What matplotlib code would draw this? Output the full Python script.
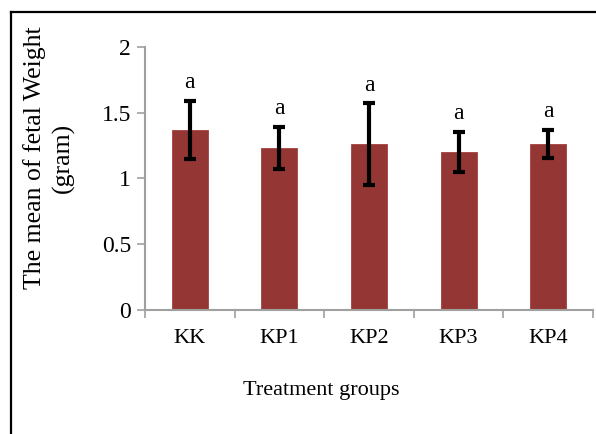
import matplotlib
matplotlib.use("Agg")
import matplotlib.pyplot as plt
from matplotlib.lines import Line2D

categories = ["KK", "KP1", "KP2", "KP3", "KP4"]
means = [1.37, 1.23, 1.26, 1.20, 1.26]
errors = [0.22, 0.16, 0.31, 0.15, 0.105]
letters = ["a", "a", "a", "a", "a"]
yticks = [0, 0.5, 1, 1.5, 2]
ytick_labels = ["0", "0.5", "1", "1.5", "2"]

plt.rcParams['font.family'] = ['Liberation Serif', 'DejaVu Serif']

fig = plt.figure(figsize=(5.96, 4.34), dpi=100)
ax = fig.add_axes([145/596, 1 - 309.5/434, (593-145)/596, (309.5-47)/434])

x = list(range(len(categories)))
ax.bar(x, means, width=0.4, color="#943634", edgecolor="#a2413f", linewidth=0.6, zorder=2)
ax.errorbar(x, means, yerr=errors, fmt="none", ecolor="black", elinewidth=3.0,
            capsize=4.2, capthick=3.0, zorder=3)
for xi, m, e, lab in zip(x, means, errors, letters):
    ax.text(xi, m + e + 0.06, lab, ha="center", va="bottom", fontsize=17)

ax.set_xlim(-0.5, len(categories) - 0.5)
ax.set_ylim(0, 2)
ax.set_yticks(yticks)
ax.set_yticklabels(ytick_labels, fontsize=17)
ax.set_xticks(x)
ax.set_xticklabels(categories, fontsize=16)
ax.set_xticks([i - 0.5 for i in range(len(categories) + 1)], minor=True)
ax.tick_params(axis="x", which="major", length=0, pad=14)
ax.tick_params(axis="x", which="minor", length=6, width=1.2, color="#a0a0a0", direction="out")
ax.tick_params(axis="y", length=6, width=1.2, color="#a0a0a0", direction="out", pad=4)

for s in ["top", "right"]:
    ax.spines[s].set_visible(False)
for s in ["left", "bottom"]:
    ax.spines[s].set_color("#a0a0a0")
    ax.spines[s].set_linewidth(1.5)

fig.text(49/596, 1 - 158/434, "The mean of fetal Weight\n(gram)", rotation=90,
         ha="center", va="center", fontsize=18.5, linespacing=1.3, multialignment="center")
fig.text(321/596, 1 - 391/434, "Treatment groups", ha="center", va="center", fontsize=16)

# outer frame
fig.add_artist(Line2D([10.5/596, 10.5/596], [0, 1 - 12/434], color="black", lw=1.6, transform=fig.transFigure))
fig.add_artist(Line2D([10.5/596, 1], [1 - 12/434, 1 - 12/434], color="black", lw=1.6, transform=fig.transFigure))

fig.savefig("out.png", dpi=100)
